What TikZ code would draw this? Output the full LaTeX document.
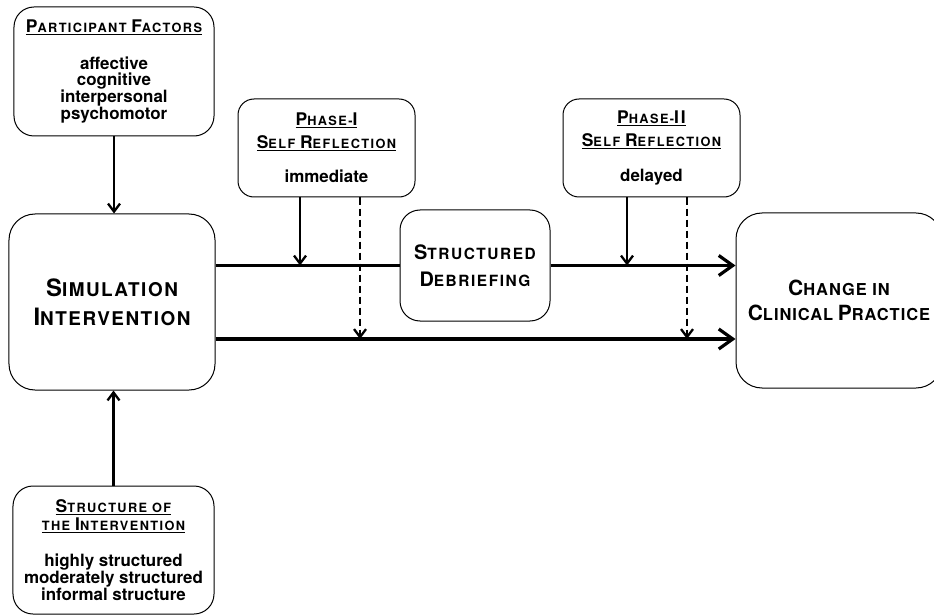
\documentclass[tikz,border=0pt]{standalone}
\usepackage{fontspec}
\setmainfont{TeX Gyre Heros}
\usetikzlibrary{arrows.meta}

% underlined heading line
\newcommand\ul[1]{$\underline{\hbox{#1}}$}
% fake small caps: first letter large, rest smaller
\newcommand\hsc[2]{{\fontsize{17.5}{18}\selectfont\addfontfeature{LetterSpace=11}#1}{\fontsize{12.8}{18}\selectfont\addfontfeature{LetterSpace=11}#2}}
\newcommand\bsc[2]{{\fontsize{24}{29}\selectfont\addfontfeature{LetterSpace=8}#1}{\fontsize{19}{29}\selectfont\addfontfeature{LetterSpace=8}#2}}
\newcommand\msc[2]{{\fontsize{21}{25}\selectfont\addfontfeature{LetterSpace=6}#1}{\fontsize{16.5}{25}\selectfont\addfontfeature{LetterSpace=6}#2}}
\newcommand\dsc[2]{{\fontsize{20}{27}\selectfont\addfontfeature{LetterSpace=10}#1}{\fontsize{15.5}{27}\selectfont\addfontfeature{LetterSpace=10}#2}}

\tikzset{
  box/.style={draw,line width=1bp,fill=white,align=center,inner sep=0pt},
  infobox/.style={box,rounded corners=20bp,minimum width=200bp,minimum height=129bp,font=\bfseries\fontsize{17}{16.7}\selectfont},
  phasebox/.style={box,rounded corners=16bp,minimum width=177bp,minimum height=98bp,font=\bfseries\fontsize{17}{16.7}\selectfont},
  mainbox/.style={box,rounded corners=26bp,minimum width=206bp,minimum height=176bp,font=\bfseries\fontsize{19}{29}\selectfont},
  feed/.style={line width=2.3bp,-{Straight Barb[length=8bp,width=12bp]}},
  late/.style={feed,dash pattern=on 7bp off 4bp},
  flow/.style={line width=3.2bp},
  flowto/.style={flow,-{Straight Barb[length=14bp,width=20bp]}},
}

\begin{document}
\begin{tikzpicture}[yscale=-1,x=1bp,y=1bp,every path/.style={line join=round}]
  \useasboundingbox[fill=white] (0,0) rectangle (934,616);

  \node[infobox] (part) at (114,71.5) {\ul{\hsc{P}{ARTICIPANT} \hsc{F}{ACTORS}}\\[20bp]
    affective\\ cognitive\\ interpersonal\\ psychomotor};
  \node[mainbox] (sim) at (112,302) {\bsc{S}{IMULATION}\\ \bsc{I}{NTERVENTION}};
  \node[infobox,minimum width=201bp,minimum height=128bp] (str) at (113.5,550)
    {\ul{\hsc{S}{TRUCTURE OF}}\\[1bp] \ul{\hsc{}{THE }\hsc{I}{NTERVENTION}}\\[20bp]
    highly structured\\ moderately structured\\ informal structure};
  \node[phasebox] (ph1) at (326.5,148) {\ul{\hsc{P}{HASE-}\hsc{I}{}}\\[6bp]
    \ul{\hsc{S}{ELF} \hsc{R}{EFLECTION}}\\[18bp] immediate};
  \node[phasebox] (ph2) at (651.5,148) {\ul{\hsc{P}{HASE-}\hsc{II}{}}\\[6bp]
    \ul{\hsc{S}{ELF} \hsc{R}{EFLECTION}}\\[18bp] delayed};
  \node[mainbox,rounded corners=20bp,minimum width=150bp,minimum height=111bp,
    font=\bfseries\fontsize{15.5}{27}\selectfont] (deb) at (475,265.5)
    {\dsc{S}{TRUCTURED}\\ \dsc{D}{EBRIEFING}};
  \node[mainbox,minimum height=175bp,font=\bfseries\fontsize{16.5}{25}\selectfont] (chg) at (839,300.5)
    {\msc{C}{HANGE IN}\\ \msc{C}{LINICAL} \msc{P}{RACTICE}};

  \coordinate (lowline) at (sim.east |- 0,339);

  % inputs to the simulation
  \draw[feed] (part.south) -- (part.south |- sim.north);
  \draw[feed] (str.north) -- (str.north |- sim.south);

  % the two routes to practice
  \draw[flow] (sim.east |- deb.west) -- (deb.west);
  \draw[flowto] (deb.east) -- (chg.west |- deb.east);
  \draw[flowto] (lowline) -- (lowline -| chg.west);

  % reflection
  \draw[feed] (ph1.south -| 300,0) -- (300,0 |- deb.west);
  \draw[late] (ph1.south -| 360,0) -- (360,0 |- lowline);
  \draw[feed] (ph2.south -| 627,0) -- (627,0 |- deb.east);
  \draw[late] (ph2.south -| 687,0) -- (687,0 |- lowline);
\end{tikzpicture}
\end{document}
